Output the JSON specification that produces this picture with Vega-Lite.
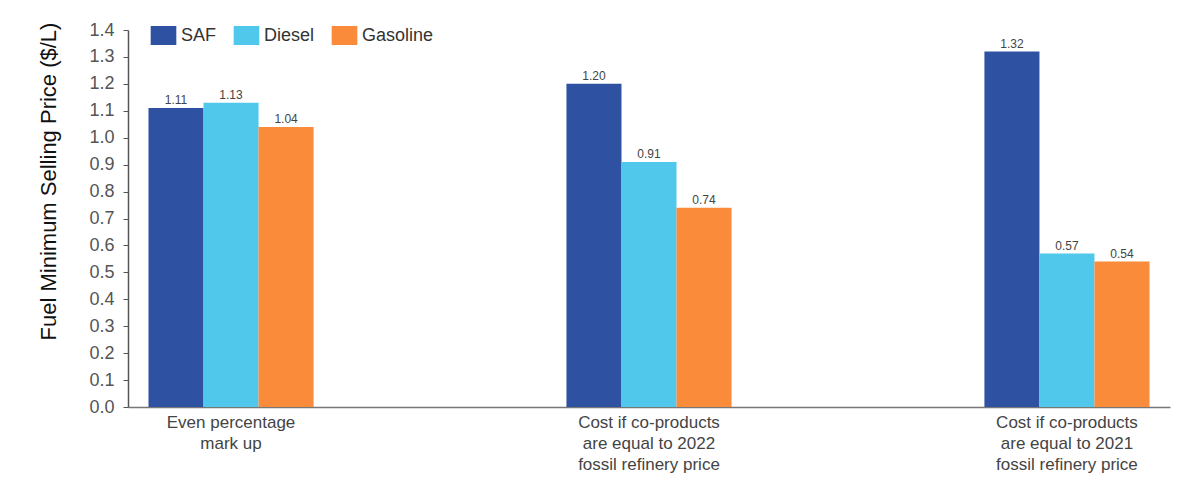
{
  "$schema": "https://vega.github.io/schema/vega-lite/v6.json",
  "width": 1042,
  "height": 377,
  "autosize": {"type": "none"},
  "padding": {"left": 128, "top": 30, "right": 10, "bottom": 74},
  "background": "white",
  "config": {
    "font": "Liberation Sans",
    "view": {"stroke": null},
    "axis": {"grid": false}
  },
  "data": {
    "values": [
      {"scenario": "Even percentage|mark up", "fuel": "SAF", "price": 1.11},
      {"scenario": "Even percentage|mark up", "fuel": "Diesel", "price": 1.13},
      {"scenario": "Even percentage|mark up", "fuel": "Gasoline", "price": 1.04},
      {"scenario": "Cost if co-products|are equal to 2022|fossil refinery price", "fuel": "SAF", "price": 1.20},
      {"scenario": "Cost if co-products|are equal to 2022|fossil refinery price", "fuel": "Diesel", "price": 0.91},
      {"scenario": "Cost if co-products|are equal to 2022|fossil refinery price", "fuel": "Gasoline", "price": 0.74},
      {"scenario": "Cost if co-products|are equal to 2021|fossil refinery price", "fuel": "SAF", "price": 1.32},
      {"scenario": "Cost if co-products|are equal to 2021|fossil refinery price", "fuel": "Diesel", "price": 0.57},
      {"scenario": "Cost if co-products|are equal to 2021|fossil refinery price", "fuel": "Gasoline", "price": 0.54}
    ]
  },
  "encoding": {
    "x": {
      "field": "scenario",
      "type": "nominal",
      "sort": null,
      "scale": {"paddingInner": 0.605, "paddingOuter": 0.049},
      "axis": {
        "title": null,
        "labelAngle": 0,
        "labelExpr": "split(datum.label, '|')",
        "labelFontSize": 17,
        "labelColor": "#444444",
        "labelLineHeight": 21,
        "labelPadding": 7,
        "ticks": false,
        "domainColor": "#777777",
        "domainWidth": 1.5
      }
    },
    "xOffset": {"field": "fuel", "type": "nominal", "sort": ["SAF", "Diesel", "Gasoline"]},
    "y": {
      "field": "price",
      "type": "quantitative",
      "scale": {"domain": [0, 1.4], "nice": false},
      "axis": {
        "title": "Fuel Minimum Selling Price ($/L)",
        "titleFontSize": 22,
        "titleFontWeight": "normal",
        "titleColor": "#111111",
        "titlePadding": 28,
        "titleY": 151,
        "values": [0, 0.1, 0.2, 0.3, 0.4, 0.5, 0.6, 0.7, 0.8, 0.9, 1.0, 1.1, 1.2, 1.3, 1.4],
        "format": ".1f",
        "labelFontSize": 18,
        "labelColor": "#555555",
        "labelPadding": 9,
        "tickSize": 5,
        "tickColor": "#555555",
        "domainColor": "#555555",
        "domainWidth": 1.5
      }
    }
  },
  "layer": [
    {
      "mark": {"type": "bar"},
      "encoding": {
        "color": {
          "field": "fuel",
          "type": "nominal",
          "sort": ["SAF", "Diesel", "Gasoline"],
          "scale": {"domain": ["SAF", "Diesel", "Gasoline"], "range": ["#2f51a1", "#4fc8eb", "#f98b3a"]},
          "legend": {
            "title": null,
            "orient": "none",
            "legendX": 26,
            "legendY": -4,
            "direction": "horizontal",
            "symbolType": "M-1.35,-1H1.35V1H-1.35Z",
            "symbolSize": 361,
            "symbolStrokeWidth": 0,
            "labelFontSize": 18,
            "labelColor": "#333333",
            "labelOffset": 8,
            "columnPadding": 16
          }
        }
      }
    },
    {
      "mark": {"type": "text", "dy": -8, "fontSize": 12, "color": "#444444"},
      "encoding": {
        "text": {"field": "price", "type": "quantitative", "format": ".2f"}
      }
    }
  ]
}
